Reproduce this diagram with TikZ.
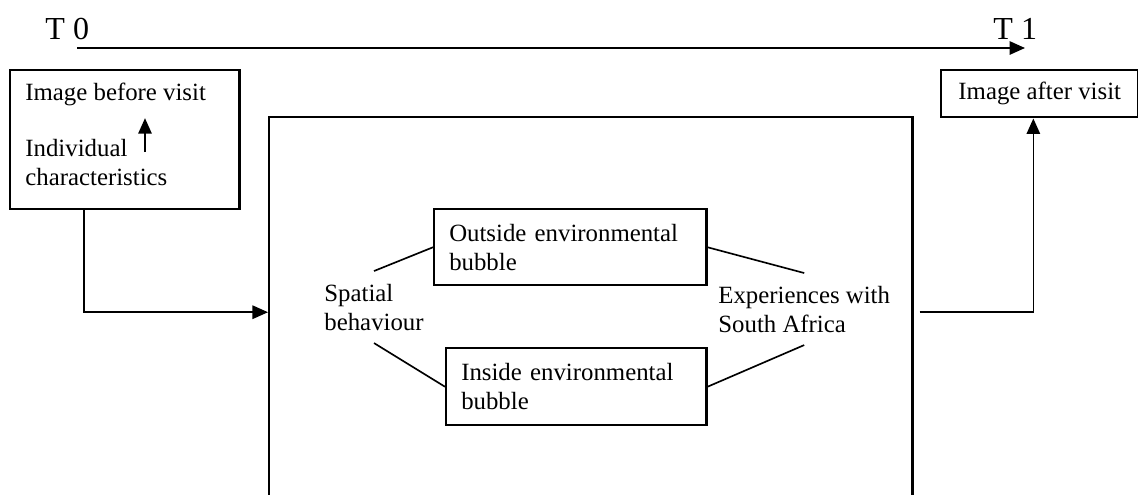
\documentclass[tikz,border=0pt]{standalone}
\usepackage{fontspec}
\setmainfont{Liberation Serif}
\usetikzlibrary{arrows.meta}

\begin{document}
\begin{tikzpicture}[x=0.017cm,y=-0.017cm,>={Triangle[length=7.5pt,width=6.5pt]},
  thin line/.style={line width=0.8pt},
  frame/.style={rectangle,draw,line width=1.2pt,anchor=north west,
    font=\fontsize{12}{14}\selectfont},
  label text/.style={anchor=base west,inner xsep=0pt,inner ysep=6pt,align=left,
    font=\fontsize{12}{14}\selectfont},
  time text/.style={anchor=base west,inner sep=0pt,font=\fontsize{15.5}{18}\selectfont}]

  \useasboundingbox (0,0) rectangle (1138,494);
  \clip (0,0) rectangle (1138,494);

  % time line
  \node[time text] (T0) at (45,39) {T 0};
  \node[time text] (T1) at (993,39) {T 1};
  \coordinate (TS) at (77,48);
  \coordinate (TE) at (1025,48);
  \draw[->,line width=0.9pt] (TS) -- (TE);

  % boxes
  \node[frame,minimum width=110.77pt,minimum height=67.23pt] (BV) at (9,69) {};
  \node[frame,minimum width=95.29pt,minimum height=22.73pt] (AV) at (940,69) {Image after visit};
  \node[frame,minimum width=311pt,minimum height=188.6pt] (SB) at (268,116) {};
  \node[frame,text width=117.06pt,inner xsep=7.26pt,minimum height=36.76pt,align=left]
    (OB) at (433,208) {Outside environmental\\bubble};
  \node[frame,text width=111.25pt,inner xsep=7.26pt,minimum height=37.24pt,align=left]
    (INB) at (445,347) {Inside environmental\\bubble};

  % texts (base = last line)
  \node[label text] (IB) at (25,100) {Image before visit};
  \node[label text] (IC) at (25,185) {Individual\\characteristics};
  \node[label text] (SP) at (324,330) {Spatial\\behaviour};
  \node[label text] (EX) at (718,332) {Experiences with\\South Africa};

  % connectors
  \coordinate (ICtop) at (145,152);
  \draw[->,thin line] (ICtop) -- (IB.south -| ICtop);
  \draw[->,thin line] ([xshift=-19.6pt]BV.south) |- (SB.west);
  \draw[->,thin line] ([xshift=2.9pt]SB.east) -| ([xshift=-3.1pt]AV.south);
  \draw[thin line] (SP.north) -- (OB.west)
    (SP.south) -- (INB.west)
    (OB.east) -- (EX.north)
    (INB.east) -- (EX.south);
\end{tikzpicture}
\end{document}
